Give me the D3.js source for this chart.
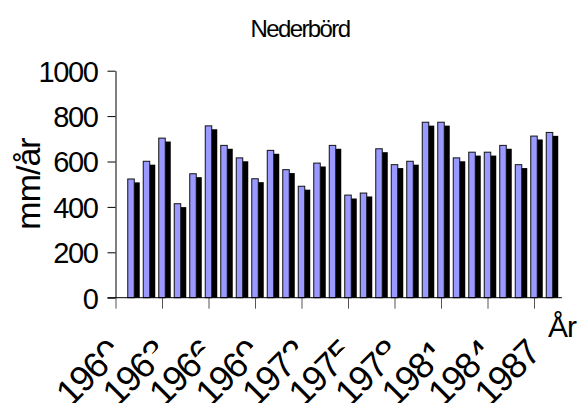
<!DOCTYPE html>
<html>
<head>
<meta charset="utf-8">
<script src="https://cdn.jsdelivr.net/npm/d3@7"></script>
<style>
  html, body { margin: 0; padding: 0; background: #fff; }
  svg { display: block; font-family: "Liberation Sans", Arial, sans-serif; }
</style>
</head>
<body>
<div id="root"></div>
<script>
// Chart data
const YEARS = [1961, 1962, 1963, 1964, 1965, 1966, 1967, 1968, 1969, 1970,
               1971, 1972, 1973, 1974, 1975, 1976, 1977, 1978, 1979, 1980,
               1981, 1982, 1983, 1984, 1985, 1986, 1987, 1988];
const RAIN  = [523, 601, 703, 414, 546, 757, 671, 616, 524, 649,
               564, 491, 593, 671, 452, 461, 656, 586, 601, 773,
               773, 616, 641, 641, 671, 586, 712, 728];
const X_TICKS = [1960, 1963, 1966, 1969, 1972, 1975, 1978, 1981, 1984, 1987];
const Y_TICKS = [0, 200, 400, 600, 800, 1000];

const TITLE   = 'Nederbörd';
const Y_TITLE = 'mm/år';
const X_TITLE = 'År';

// Layout
const WIDTH  = 578;
const HEIGHT = 403;
const AXIS_X = 115.5;
const AXIS_Y = 297.7;
const TOP_Y  = 70.7;
const X_END  = 1988.8;   // the category axis runs a little past the last bar
const BAR_W  = 6.5;
const SHADOW_DX = 5;
const SHADOW_DY = 3.4;
const LABEL_SIZE = 36;
const FONT = '"Liberation Sans", Arial, sans-serif';

const svg = d3.select('#root')
  .append('svg')
  .attr('width', WIDTH)
  .attr('height', HEIGHT);

svg.append('rect')
  .attr('width', WIDTH)
  .attr('height', HEIGHT)
  .attr('fill', '#fff');

const x = d3.scaleLinear()
  .domain([1960, 1987])
  .range([AXIS_X, 534]);

const y = d3.scaleLinear()
  .domain([0, 1000])
  .range([AXIS_Y, TOP_Y]);

const data = YEARS.map((year, i) => ({ year, value: RAIN[i] }));

// shadows first, bars on top
svg.append('g')
  .selectAll('rect')
  .data(data)
  .enter()
  .append('rect')
  .attr('x', d => x(d.year) - BAR_W / 2 - 0.5 + SHADOW_DX)
  .attr('y', d => y(d.value) + SHADOW_DY)
  .attr('width', BAR_W + 1)
  .attr('height', d => AXIS_Y - y(d.value) - SHADOW_DY)
  .attr('fill', '#000');

svg.append('g')
  .selectAll('rect')
  .data(data)
  .enter()
  .append('rect')
  .attr('x', d => x(d.year) - BAR_W / 2)
  .attr('y', d => y(d.value))
  .attr('width', BAR_W)
  .attr('height', d => AXIS_Y - y(d.value))
  .attr('fill', '#9999ff')
  .attr('stroke', '#111')
  .attr('stroke-width', 1);

// y axis
const yAxis = svg.append('g')
  .attr('transform', `translate(${AXIS_X},0)`)
  .call(d3.axisLeft(y)
    .tickValues(Y_TICKS)
    .tickFormat(d3.format('d'))
    .tickSize(8)
    .tickSizeOuter(0)
    .tickPadding(10));

yAxis.select('.domain').attr('stroke', '#000');
yAxis.selectAll('.tick line').attr('stroke', '#000');
yAxis.selectAll('.tick text')
  .attr('font-family', FONT)
  .attr('font-size', 29)
  .attr('letter-spacing', -1.4)
  .attr('fill', '#000')
  .attr('dy', '0.36em');

// x axis
// the last digit of every label but the final one loses its lower half
const capCut = svg.append('defs')
  .append('clipPath')
  .attr('id', 'lastCut')
  .attr('clipPathUnits', 'userSpaceOnUse');
capCut.append('path')
  .attr('d', 'M-250,-50 L50,-50 L50,13 L-19,13 L-19,80 L-250,80 Z');

const xAxis = svg.append('g')
  .attr('transform', `translate(0,${AXIS_Y})`)
  .call(d3.axisBottom(x)
    .tickValues(X_TICKS)
    .tickFormat(d3.format('d'))
    .tickSize(11)
    .tickSizeOuter(0));

xAxis.select('.domain').remove();
xAxis.selectAll('.tick line').attr('stroke', '#555');
xAxis.selectAll('.tick text')
  .attr('font-family', FONT)
  .attr('font-size', LABEL_SIZE)
  .attr('letter-spacing', -1.5)
  .attr('fill', '#000')
  .attr('text-anchor', 'end')
  .attr('x', 0)
  .attr('y', 0)
  .attr('dy', '0.72em')
  .attr('transform', 'translate(-11,39) rotate(-45)')
  .attr('clip-path', (d, i) => i < X_TICKS.length - 1 ? 'url(#lastCut)' : null);

svg.append('line')
  .attr('x1', AXIS_X - 8)
  .attr('x2', x(X_END))
  .attr('y1', AXIS_Y)
  .attr('y2', AXIS_Y)
  .attr('stroke', '#000');

// titles
svg.append('text')
  .attr('x', 300)
  .attr('y', 37)
  .attr('text-anchor', 'middle')
  .attr('font-family', FONT)
  .attr('font-size', 24)
  .attr('letter-spacing', -1.6)
  .text(TITLE);

svg.append('text')
  .attr('transform', 'translate(40,184) rotate(-90)')
  .attr('text-anchor', 'middle')
  .attr('font-family', FONT)
  .attr('font-size', 34)
  .attr('letter-spacing', -1)
  .text(Y_TITLE);

svg.append('text')
  .attr('x', 548)
  .attr('y', 336.5)
  .attr('font-family', FONT)
  .attr('font-size', 30)
  .attr('letter-spacing', -1)
  .text(X_TITLE);
</script>
</body>
</html>
